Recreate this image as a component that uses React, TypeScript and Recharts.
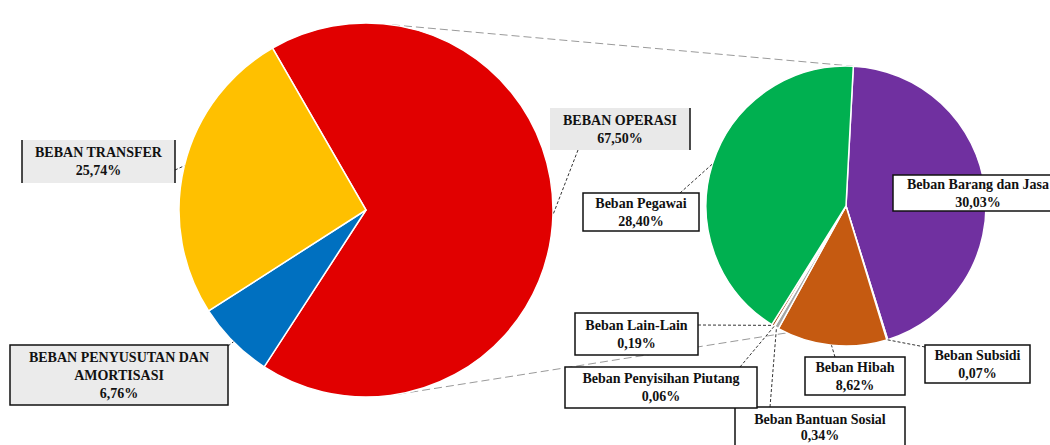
import React from 'react';
import { PieChart, Pie, Cell, Customized } from 'recharts';

// main pie (total expenses)
const mainNames = ['BEBAN OPERASI', 'BEBAN PENYUSUTAN DAN AMORTISASI', 'BEBAN TRANSFER'];
const mainValues = [67.5, 6.76, 25.74];
const mainColors = ['#E10000', '#0070C0', '#FFC000'];

// breakdown of BEBAN OPERASI
const subNames = [
  'Beban Barang dan Jasa',
  'Beban Subsidi',
  'Beban Hibah',
  'Beban Bantuan Sosial',
  'Beban Penyisihan Piutang',
  'Beban Lain-Lain',
  'Beban Pegawai',
];
const subValues = [30.03, 0.07, 8.62, 0.34, 0.06, 0.19, 28.4];
const subColors = ['#7030A0', '#4472C4', '#C55A11', '#A5A5A5', '#264478', '#9E480E', '#00B050'];

const mainData = mainNames.map((name, i) => ({ name, value: mainValues[i] }));
const subData = subNames.map((name, i) => ({ name, value: subValues[i] }));

const W = 1050;
const H = 445;
const MAIN = { cx: 366, cy: 210, r: 187, start: 120 };
const SUB = { cx: 846, cy: 206, r: 140, start: 87 };
const RAD = Math.PI / 180;
const FONT = '"Liberation Serif", "DejaVu Serif", serif';

type Box = {
  x: number; y: number; w: number; h: number;
  fill: string; borders: 'all' | 'lr' | 'r';
  ax?: number; ay?: number; lh?: number;
};

const lineBreaks: Record<string, string[]> = {
  'BEBAN PENYUSUTAN DAN AMORTISASI': ['BEBAN PENYUSUTAN DAN', 'AMORTISASI'],
};

const boxes: Record<string, Box> = {
  'BEBAN OPERASI': { x: 550, y: 108, w: 140, h: 42, fill: '#E9E9E9', borders: 'r', ax: 578, ay: 150 },
  'BEBAN PENYUSUTAN DAN AMORTISASI': { x: 10, y: 345, w: 218, h: 60, fill: '#EBEBEB', borders: 'all', ax: 228, ay: 346 },
  'BEBAN TRANSFER': { x: 22, y: 140, w: 153, h: 43, fill: '#EBEBEB', borders: 'lr', ax: 175, ay: 170 },
  'Beban Barang dan Jasa': { x: 893, y: 175, w: 170, h: 36, fill: '#FFFFFF', borders: 'all' },
  'Beban Subsidi': { x: 925, y: 345, w: 105, h: 38, fill: '#FFFFFF', borders: 'all', ax: 925, ay: 347 },
  'Beban Hibah': { x: 805, y: 357, w: 100, h: 38, fill: '#FFFFFF', borders: 'all', ax: 835, ay: 357 },
  'Beban Bantuan Sosial': { x: 735, y: 407, w: 170, h: 40, fill: '#FFFFFF', borders: 'all', ax: 770, ay: 407, lh: 16 },
  'Beban Penyisihan Piutang': { x: 565, y: 367, w: 192, h: 41, fill: '#FFFFFF', borders: 'all', ax: 740, ay: 367 },
  'Beban Lain-Lain': { x: 575, y: 313, w: 123, h: 42, fill: '#FFFFFF', borders: 'all', ax: 698, ay: 325 },
  'Beban Pegawai': { x: 583, y: 193, w: 116, h: 38, fill: '#FFFFFF', borders: 'all', ax: 680, ay: 193 },
};

const fmt = (v: number) => v.toFixed(2).replace('.', ',') + '%';

function renderLabel(props: any) {
  const { cx, cy, midAngle, outerRadius, name, value } = props;
  const b = boxes[name];
  if (!b) return null;
  const lines = [...(lineBreaks[name] || [name]), fmt(value)];
  const lh = b.lh ?? 18;
  const top = b.y + b.h / 2 - ((lines.length - 1) * lh) / 2;
  const ex = cx + outerRadius * Math.cos(-midAngle * RAD);
  const ey = cy + outerRadius * Math.sin(-midAngle * RAD);
  return (
    <g>
      {b.ax !== undefined && (
        <line x1={b.ax} y1={b.ay} x2={ex} y2={ey} stroke="#333" strokeWidth={1} strokeDasharray="3 2" />
      )}
      <rect x={b.x} y={b.y} width={b.w} height={b.h} fill={b.fill}
        stroke={b.borders === 'all' ? '#111' : 'none'} strokeWidth={1.5} />
      {(b.borders === 'lr') && (
        <line x1={b.x} y1={b.y} x2={b.x} y2={b.y + b.h} stroke="#111" strokeWidth={1.5} />
      )}
      {(b.borders === 'lr' || b.borders === 'r') && (
        <line x1={b.x + b.w} y1={b.y} x2={b.x + b.w} y2={b.y + b.h} stroke="#111" strokeWidth={1.5} />
      )}
      {lines.map((t, i) => (
        <text key={i} x={b.x + b.w / 2} y={top + i * lh} textAnchor="middle" dominantBaseline="central"
          fontFamily={FONT} fontSize={14} fontWeight="bold" fill="#111">
          {t}
        </text>
      ))}
    </g>
  );
}

function Connectors() {
  const pt = (p: { cx: number; cy: number; r: number }, compass: number) => ({
    x: p.cx + p.r * Math.sin(compass * RAD),
    y: p.cy - p.r * Math.cos(compass * RAD),
  });
  const a1 = pt(MAIN, 8);
  const b1 = pt(SUB, 90 - SUB.start);
  const a2 = pt(MAIN, 170);
  const b2 = pt(SUB, 205);
  return (
    <g>
      <line x1={a1.x} y1={a1.y} x2={b1.x} y2={b1.y} stroke="#9A9A9A" strokeWidth={1} strokeDasharray="8 4" />
      <line x1={a2.x} y1={a2.y} x2={b2.x} y2={b2.y} stroke="#9A9A9A" strokeWidth={1} strokeDasharray="8 4" />
    </g>
  );
}

export default function App() {
  return (
    <div style={{ position: 'absolute', left: 0, top: 0, width: W, height: H, background: '#fff' }}>
      <PieChart width={W} height={H} margin={{ top: 0, right: 0, bottom: 0, left: 0 }}>
        <Customized component={Connectors} />
        <Pie
          data={mainData}
          dataKey="value"
          nameKey="name"
          cx={MAIN.cx}
          cy={MAIN.cy}
          outerRadius={MAIN.r}
          startAngle={MAIN.start}
          endAngle={MAIN.start - 360}
          stroke="#fff"
          strokeWidth={1.5}
          label={renderLabel}
          labelLine={false}
          isAnimationActive={false}
        >
          {mainData.map((d, i) => (
            <Cell key={d.name} fill={mainColors[i]} />
          ))}
        </Pie>
        <Pie
          data={subData}
          dataKey="value"
          nameKey="name"
          cx={SUB.cx}
          cy={SUB.cy}
          outerRadius={SUB.r}
          startAngle={SUB.start}
          endAngle={SUB.start - 360}
          stroke="#fff"
          strokeWidth={1.5}
          label={renderLabel}
          labelLine={false}
          isAnimationActive={false}
        >
          {subData.map((d, i) => (
            <Cell key={d.name} fill={subColors[i]} />
          ))}
        </Pie>
      </PieChart>
    </div>
  );
}
